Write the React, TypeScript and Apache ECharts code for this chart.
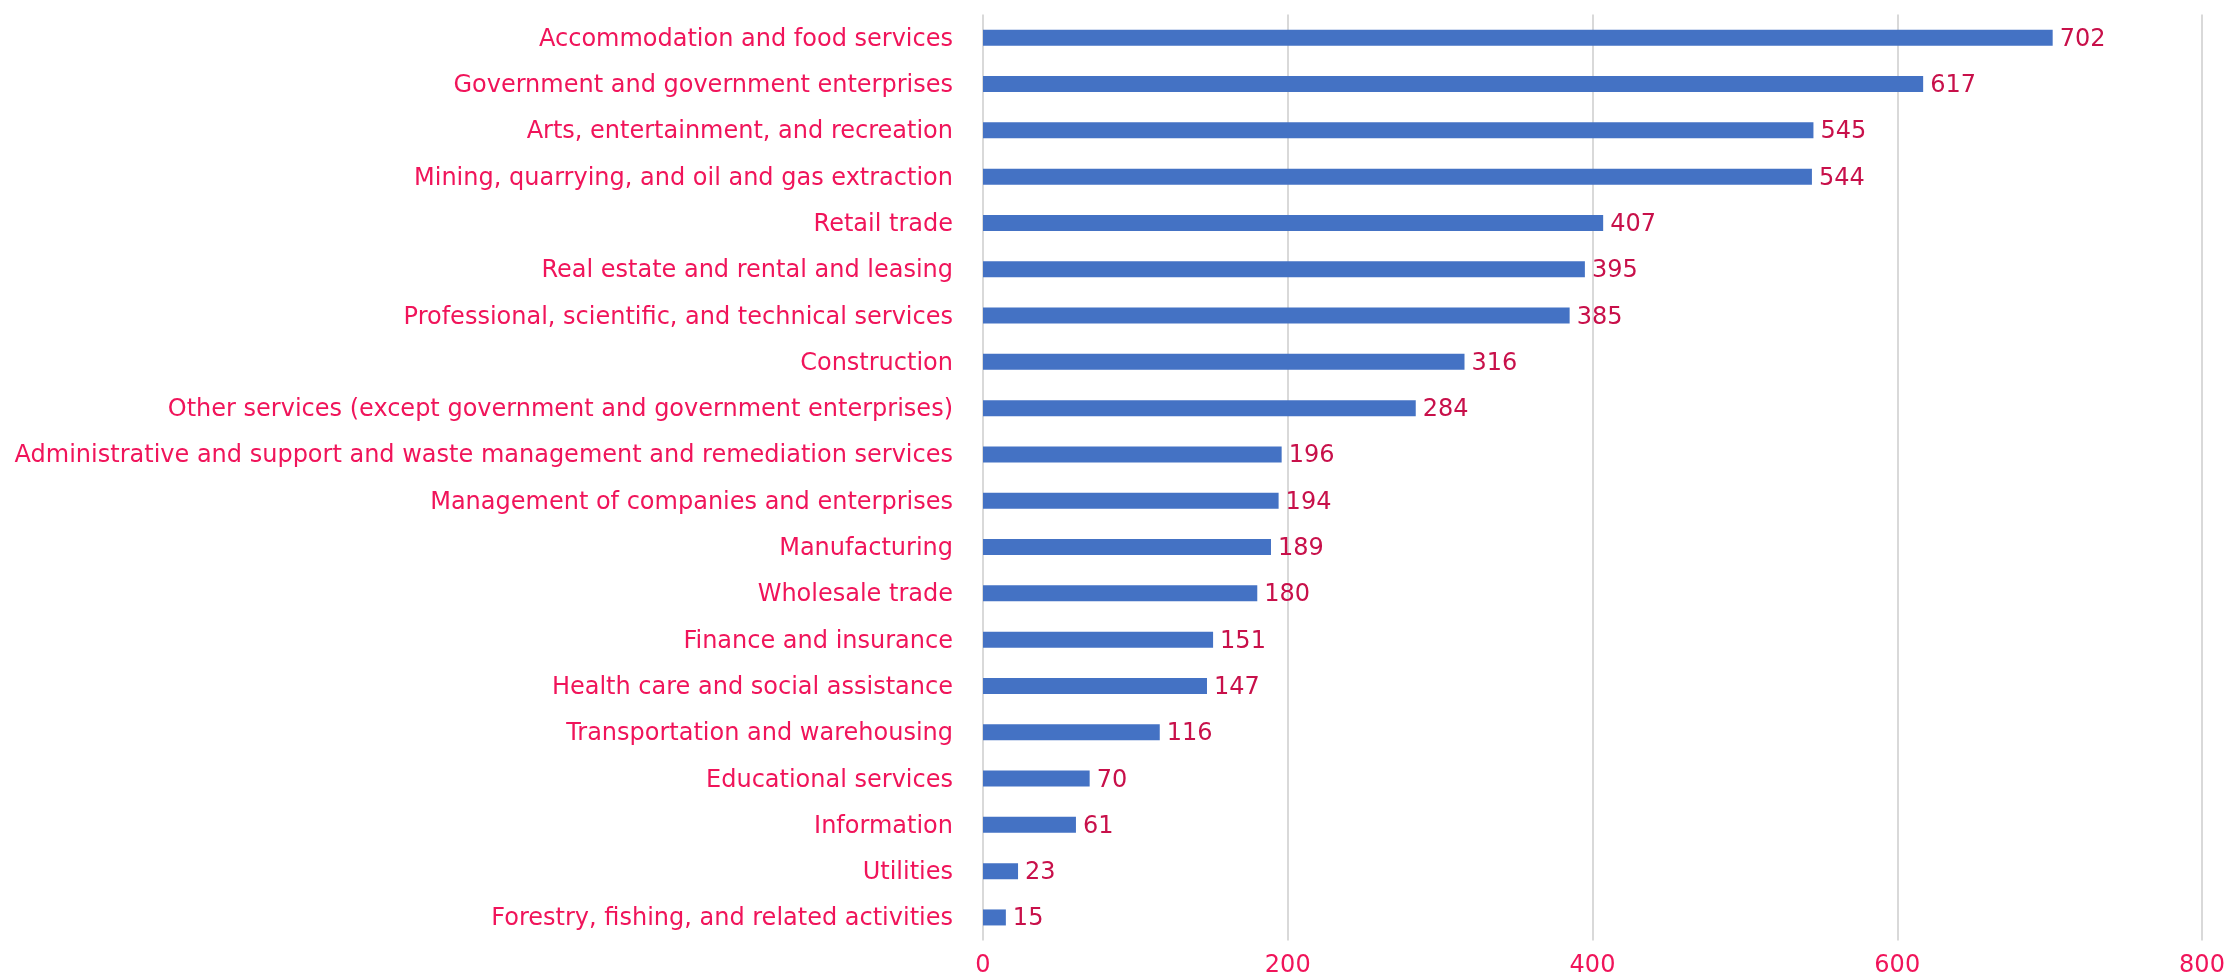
import React, { useEffect, useRef } from "react";
import * as echarts from "echarts";

const categories = [
  "Accommodation and food services",
  "Government and government enterprises",
  "Arts, entertainment, and recreation",
  "Mining, quarrying, and oil and gas extraction",
  "Retail trade",
  "Real estate and rental and leasing",
  "Professional, scientific, and technical services",
  "Construction",
  "Other services (except government and government enterprises)",
  "Administrative and support and waste management and remediation services",
  "Management of companies and enterprises",
  "Manufacturing",
  "Wholesale trade",
  "Finance and insurance",
  "Health care and social assistance",
  "Transportation and warehousing",
  "Educational services",
  "Information",
  "Utilities",
  "Forestry, fishing, and related activities",
];

const values = [702, 617, 545, 544, 407, 395, 385, 316, 284, 196, 194, 189, 180, 151, 147, 116, 70, 61, 23, 15];

const xTicks = [0, 200, 400, 600, 800];

const FONT = "DejaVu Sans, Verdana, sans-serif";

export default function App() {
  const ref = useRef<HTMLDivElement>(null);
  useEffect(() => {
    if (!ref.current) return;
    const chart = echarts.init(ref.current, undefined, { renderer: "svg" });
    chart.setOption({
      animation: false,
      grid: { left: 983, right: 27, top: 14.6, height: 926, containLabel: false },
      xAxis: {
        type: "value",
        min: xTicks[0],
        max: xTicks[xTicks.length - 1],
        interval: 200,
        axisLine: { show: false },
        axisTick: { show: false },
        splitLine: { show: true, lineStyle: { color: "#D9D9D9", width: 2 } },
        axisLabel: { color: "#F0145A", fontSize: 24, fontFamily: FONT, margin: 11 },
      },
      yAxis: {
        type: "category",
        data: categories,
        inverse: true,
        axisLine: { show: false },
        axisTick: { show: false },
        axisLabel: { color: "#F0145A", fontSize: 24, fontFamily: FONT, margin: 30 },
      },
      series: [
        {
          type: "bar",
          data: values,
          barWidth: 16,
          itemStyle: { color: "#4472C4" },
          label: {
            show: true,
            position: "right",
            distance: 7,
            color: "#C8104A",
            fontSize: 24,
            fontFamily: FONT,
          },
        },
      ],
    });
    return () => chart.dispose();
  }, []);
  return (
    <div
      ref={ref}
      style={{ position: "fixed", left: 0, top: 0, width: 2229, height: 980 }}
    />
  );
}
